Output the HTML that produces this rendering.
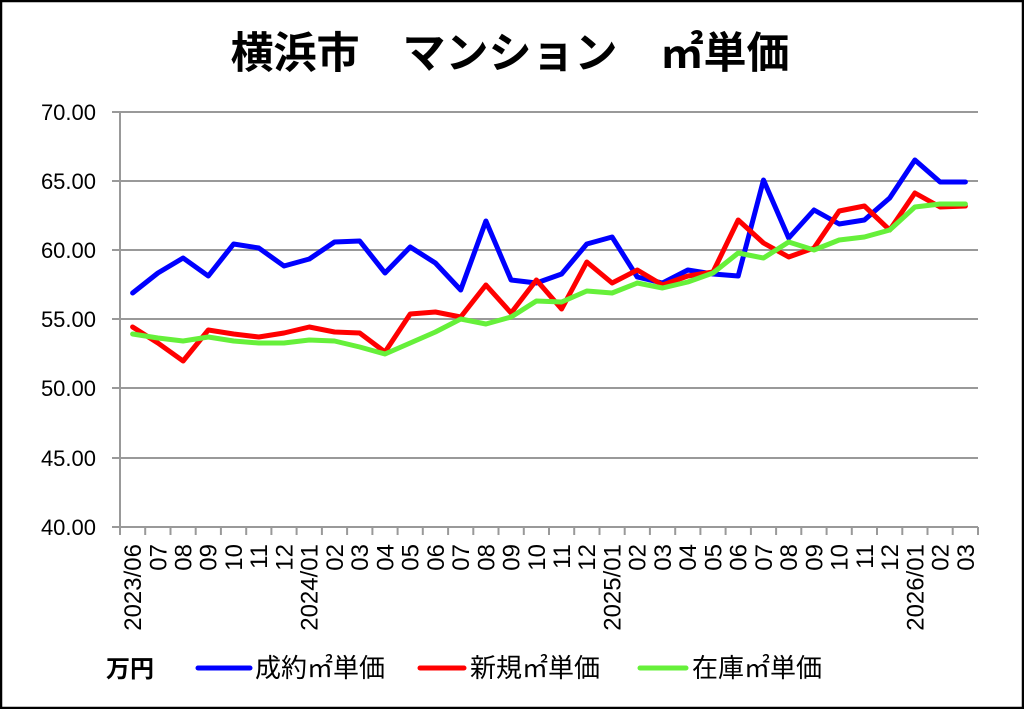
<!DOCTYPE html>
<html><head><meta charset="utf-8"><style>
html,body{margin:0;padding:0;background:#fff}
svg{display:block}
text{font-family:"Liberation Sans","Noto Sans CJK JP",sans-serif}
</style></head><body>
<svg width="1024" height="709" viewBox="0 0 1024 709" xmlns="http://www.w3.org/2000/svg">
<rect x="1" y="1" width="1022" height="707" fill="#fff" stroke="#000" stroke-width="2.5"/>
<text x="510" y="68" text-anchor="middle" font-size="43" font-weight="bold" style="font-family:'Noto Sans CJK JP',sans-serif">横浜市　マンション　㎡単価</text>
<g stroke="#999" stroke-width="2">
<line x1="112" y1="112" x2="978" y2="112"/>
<line x1="112" y1="181" x2="978" y2="181"/>
<line x1="112" y1="250" x2="978" y2="250"/>
<line x1="112" y1="319" x2="978" y2="319"/>
<line x1="112" y1="388" x2="978" y2="388"/>
<line x1="112" y1="458" x2="978" y2="458"/>
<line x1="112" y1="527" x2="978" y2="527"/>
<line x1="120" y1="112" x2="120" y2="535"/>
</g>
<g stroke="#999" stroke-width="2">
<line x1="145.2" y1="527" x2="145.2" y2="535"/><line x1="170.5" y1="527" x2="170.5" y2="535"/><line x1="195.7" y1="527" x2="195.7" y2="535"/><line x1="220.9" y1="527" x2="220.9" y2="535"/><line x1="246.2" y1="527" x2="246.2" y2="535"/><line x1="271.4" y1="527" x2="271.4" y2="535"/><line x1="296.6" y1="527" x2="296.6" y2="535"/><line x1="321.9" y1="527" x2="321.9" y2="535"/><line x1="347.1" y1="527" x2="347.1" y2="535"/><line x1="372.4" y1="527" x2="372.4" y2="535"/><line x1="397.6" y1="527" x2="397.6" y2="535"/><line x1="422.8" y1="527" x2="422.8" y2="535"/><line x1="448.1" y1="527" x2="448.1" y2="535"/><line x1="473.3" y1="527" x2="473.3" y2="535"/><line x1="498.5" y1="527" x2="498.5" y2="535"/><line x1="523.8" y1="527" x2="523.8" y2="535"/><line x1="549" y1="527" x2="549" y2="535"/><line x1="574.2" y1="527" x2="574.2" y2="535"/><line x1="599.5" y1="527" x2="599.5" y2="535"/><line x1="624.7" y1="527" x2="624.7" y2="535"/><line x1="649.9" y1="527" x2="649.9" y2="535"/><line x1="675.2" y1="527" x2="675.2" y2="535"/><line x1="700.4" y1="527" x2="700.4" y2="535"/><line x1="725.6" y1="527" x2="725.6" y2="535"/><line x1="750.9" y1="527" x2="750.9" y2="535"/><line x1="776.1" y1="527" x2="776.1" y2="535"/><line x1="801.3" y1="527" x2="801.3" y2="535"/><line x1="826.6" y1="527" x2="826.6" y2="535"/><line x1="851.8" y1="527" x2="851.8" y2="535"/><line x1="877" y1="527" x2="877" y2="535"/><line x1="902.3" y1="527" x2="902.3" y2="535"/><line x1="927.5" y1="527" x2="927.5" y2="535"/><line x1="952.7" y1="527" x2="952.7" y2="535"/><line x1="978" y1="527" x2="978" y2="535"/>
</g>
<g font-size="22" text-anchor="end" fill="#000">
<text x="96" y="120">70.00</text><text x="96" y="189">65.00</text><text x="96" y="258">60.00</text><text x="96" y="327">55.00</text><text x="96" y="396">50.00</text><text x="96" y="466">45.00</text><text x="96" y="535">40.00</text>
</g>
<g font-size="24" text-anchor="end" fill="#000">
<text transform="translate(141,544) rotate(-90)">2023/06</text>
<text transform="translate(166.3,544) rotate(-90)">07</text>
<text transform="translate(191.5,544) rotate(-90)">08</text>
<text transform="translate(216.7,544) rotate(-90)">09</text>
<text transform="translate(242,544) rotate(-90)">10</text>
<text transform="translate(267.2,544) rotate(-90)">11</text>
<text transform="translate(292.4,544) rotate(-90)">12</text>
<text transform="translate(317.7,544) rotate(-90)">2024/01</text>
<text transform="translate(342.9,544) rotate(-90)">02</text>
<text transform="translate(368.1,544) rotate(-90)">03</text>
<text transform="translate(393.4,544) rotate(-90)">04</text>
<text transform="translate(418.6,544) rotate(-90)">05</text>
<text transform="translate(443.8,544) rotate(-90)">06</text>
<text transform="translate(469.1,544) rotate(-90)">07</text>
<text transform="translate(494.3,544) rotate(-90)">08</text>
<text transform="translate(519.5,544) rotate(-90)">09</text>
<text transform="translate(544.8,544) rotate(-90)">10</text>
<text transform="translate(570,544) rotate(-90)">11</text>
<text transform="translate(595.2,544) rotate(-90)">12</text>
<text transform="translate(620.5,544) rotate(-90)">2025/01</text>
<text transform="translate(645.7,544) rotate(-90)">02</text>
<text transform="translate(670.9,544) rotate(-90)">03</text>
<text transform="translate(696.2,544) rotate(-90)">04</text>
<text transform="translate(721.4,544) rotate(-90)">05</text>
<text transform="translate(746.6,544) rotate(-90)">06</text>
<text transform="translate(771.9,544) rotate(-90)">07</text>
<text transform="translate(797.1,544) rotate(-90)">08</text>
<text transform="translate(822.4,544) rotate(-90)">09</text>
<text transform="translate(847.6,544) rotate(-90)">10</text>
<text transform="translate(872.8,544) rotate(-90)">11</text>
<text transform="translate(898.1,544) rotate(-90)">12</text>
<text transform="translate(923.3,544) rotate(-90)">2026/01</text>
<text transform="translate(948.5,544) rotate(-90)">02</text>
<text transform="translate(973.8,544) rotate(-90)">03</text>
</g>
<g fill="none" stroke-width="5" stroke-linejoin="round" stroke-linecap="round">
<polyline stroke="#00f" points="132.6,293 157.9,273 183.1,258 208.3,276 233.6,244 258.8,248 284,266 309.3,259 334.5,242 359.7,241 385,273 410.2,247 435.4,263 460.7,290 485.9,221 511.1,280 536.4,283 561.6,274 586.8,244 612.1,237 637.3,277 662.5,283 687.8,270 713,274 738.2,276 763.5,180 788.7,238 814,210 839.2,224 864.4,220 889.7,198 914.9,160 940.1,182 965.4,182"/>
<polyline stroke="#f00" points="132.6,327 157.9,343 183.1,361 208.3,330 233.6,334 258.8,337 284,333 309.3,327 334.5,332 359.7,333 385,352 410.2,314 435.4,312 460.7,317 485.9,285 511.1,313 536.4,280 561.6,309 586.8,262 612.1,283 637.3,270 662.5,285 687.8,276 713,272 738.2,220 763.5,243 788.7,257 814,248 839.2,211 864.4,206 889.7,230 914.9,193 940.1,207 965.4,206"/>
<polyline stroke="#66f03a" points="132.6,334 157.9,338 183.1,341 208.3,337 233.6,341 258.8,343 284,343 309.3,340 334.5,341 359.7,347 385,354 410.2,343 435.4,332 460.7,319 485.9,324 511.1,317 536.4,301 561.6,302 586.8,291 612.1,293 637.3,283 662.5,288 687.8,282 713,273 738.2,253 763.5,258 788.7,242 814,250 839.2,240 864.4,237 889.7,230 914.9,207 940.1,204 965.4,204"/>
</g>
<g font-size="26" fill="#000" style="font-family:'Noto Sans CJK JP',sans-serif">
<text x="106" y="677" font-size="24" font-weight="bold">万円</text>
<line x1="198" y1="668" x2="250" y2="668" stroke="#00f" stroke-width="5" stroke-linecap="round"/>
<text x="255" y="677">成約㎡単価</text>
<line x1="420" y1="668" x2="464" y2="668" stroke="#f00" stroke-width="5" stroke-linecap="round"/>
<text x="470" y="677">新規㎡単価</text>
<line x1="640" y1="668" x2="686" y2="668" stroke="#66f03a" stroke-width="5" stroke-linecap="round"/>
<text x="692" y="677">在庫㎡単価</text>
</g>
</svg>
</body></html>
